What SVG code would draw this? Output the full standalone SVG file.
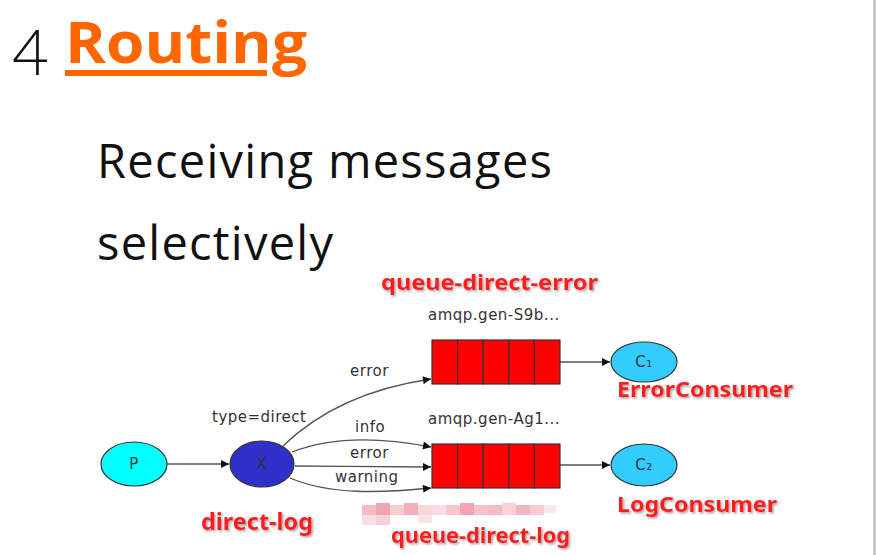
<svg xmlns="http://www.w3.org/2000/svg" width="876" height="555" viewBox="0 0 876 555">
<style>
.slide{font-family:"Open Sans",Lato,sans-serif;fill:#111}
.gv{font-family:"DejaVu Sans",sans-serif;font-size:15px;letter-spacing:0.5px;fill:#333}
.node{stroke:#333;stroke-width:1.2}
.edge{fill:none;stroke:#555;stroke-width:1.3}
.red{font-family:"Noto Sans","Open Sans",sans-serif;font-weight:bold;fill:#ff1a1a;filter:url(#sh)}
.cell{fill:#ff0000;stroke:#333;stroke-width:1.2}
</style>
<defs>
<marker id="ah" viewBox="0 0 10 10" refX="10" refY="5" markerWidth="10" markerHeight="8" markerUnits="userSpaceOnUse" orient="auto">
<path d="M0,0 L10,5 L0,10 z" fill="#111"/>
</marker>
<filter id="sh" x="-10%" y="-30%" width="120%" height="160%">
<feDropShadow dx="1.5" dy="1.5" stdDeviation="0.8" flood-color="#888" flood-opacity="0.8"/>
</filter>
</defs>
<rect width="876" height="555" fill="#fff"/>
<rect x="873" y="0" width="3" height="555" fill="#c8c8c8"/>

<g id="title">
<text x="12" y="75" font-family="Lato,sans-serif" fill="#111" font-size="64" font-weight="300">4</text>
<text x="65" y="63" font-family="'Open Sans',Lato,sans-serif" font-weight="bold" font-size="57" fill="#ff6600" textLength="242" lengthAdjust="spacingAndGlyphs">Routing</text>
<rect x="65" y="70" width="202" height="6" fill="#ff6600"/>
</g>
<g id="subtitle">
<text x="97" y="178" class="slide" font-size="47" textLength="455" lengthAdjust="spacing">Receiving messages</text>
<text x="97" y="260" class="slide" font-size="47" textLength="236" lengthAdjust="spacing">selectively</text>
</g>

<g id="mosaic" opacity="0.7">
<rect x="362" y="505" width="14" height="10" fill="#f2a0a8"/>
<rect x="376" y="503" width="14" height="12" fill="#e98090"/>
<rect x="390" y="505" width="14" height="10" fill="#f4b8c0"/>
<rect x="404" y="503" width="14" height="12" fill="#ee90a0"/>
<rect x="418" y="505" width="14" height="10" fill="#f7c8d0"/>
<rect x="432" y="505" width="14" height="10" fill="#f8d0d8"/>
<rect x="446" y="505" width="14" height="10" fill="#f4b0b8"/>
<rect x="460" y="503" width="14" height="12" fill="#ec8090"/>
<rect x="474" y="505" width="14" height="10" fill="#f2a8b4"/>
<rect x="488" y="505" width="14" height="10" fill="#f0a0ac"/>
<rect x="502" y="503" width="14" height="12" fill="#f6c0c8"/>
<rect x="516" y="505" width="14" height="10" fill="#ee98a6"/>
<rect x="530" y="505" width="14" height="10" fill="#f4b8c0"/>
<rect x="544" y="505" width="12" height="8" fill="#f8dde0"/>
<rect x="362" y="515" width="14" height="10" fill="#f8d0d6"/>
<rect x="376" y="515" width="14" height="10" fill="#f5c0c8"/>
<rect x="418" y="515" width="14" height="8" fill="#f8d8dc"/>
</g>

<g id="connectors">
<line class="edge" x1="167" y1="464" x2="229" y2="464" marker-end="url(#ah)"/>
<path class="edge" d="M283,446 C320,410 370,388 431,379" marker-end="url(#ah)"/>
<path class="edge" d="M292,452 C330,437 380,437 431,447" marker-end="url(#ah)"/>
<path class="edge" d="M295,466 C340,466 390,467 431,467" marker-end="url(#ah)"/>
<path class="edge" d="M290,478 C330,495 380,493 431,488" marker-end="url(#ah)"/>
<line class="edge" x1="560" y1="362" x2="610" y2="362" marker-end="url(#ah)"/>
<line class="edge" x1="560" y1="465" x2="610" y2="465" marker-end="url(#ah)"/>
<text x="350" y="376" class="gv">error</text>
<text x="355" y="432" class="gv">info</text>
<text x="350" y="458" class="gv">error</text>
<text x="335" y="482" class="gv" letter-spacing="1.2">warning</text>
<text x="212" y="422" class="gv">type=direct</text>
</g>

<g id="P">
<ellipse class="node" cx="134" cy="464" rx="33" ry="22" fill="#00ffff"/>
<text x="134" y="469" class="gv" text-anchor="middle" fill="#111">P</text>
</g>
<g id="X">
<ellipse class="node" cx="262" cy="464" rx="32" ry="23" fill="#3030c8"/>
<text x="262" y="469" class="gv" text-anchor="middle" fill="#111">X</text>
</g>

<g id="queue-error">
<rect class="cell" x="432" y="340" width="25.6" height="44"/>
<rect class="cell" x="457.6" y="340" width="25.6" height="44"/>
<rect class="cell" x="483.2" y="340" width="25.6" height="44"/>
<rect class="cell" x="508.8" y="340" width="25.6" height="44"/>
<rect class="cell" x="534.4" y="340" width="25.6" height="44"/>
<text x="428" y="320" class="gv">amqp.gen-S9b...</text>
</g>
<g id="queue-log">
<rect class="cell" x="432" y="444" width="25.6" height="44"/>
<rect class="cell" x="457.6" y="444" width="25.6" height="44"/>
<rect class="cell" x="483.2" y="444" width="25.6" height="44"/>
<rect class="cell" x="508.8" y="444" width="25.6" height="44"/>
<rect class="cell" x="534.4" y="444" width="25.6" height="44"/>
<text x="428" y="424" class="gv">amqp.gen-Ag1...</text>
</g>

<g id="C1">
<ellipse class="node" cx="644" cy="362" rx="33" ry="20" fill="#33ccff"/>
<text x="644" y="367" class="gv" text-anchor="middle" fill="#111">C₁</text>
</g>
<g id="C2">
<ellipse class="node" cx="644" cy="465" rx="33" ry="21" fill="#33ccff"/>
<text x="644" y="470" class="gv" text-anchor="middle" fill="#111">C₂</text>
</g>

<g id="labels">
<text x="381" y="290" class="red" font-size="22" textLength="217" lengthAdjust="spacingAndGlyphs">queue-direct-error</text>
<text x="617" y="397" class="red" font-size="22" textLength="176" lengthAdjust="spacingAndGlyphs">ErrorConsumer</text>
<text x="201" y="530" class="red" font-size="23" textLength="112" lengthAdjust="spacingAndGlyphs">direct-log</text>
<text x="617" y="512" class="red" font-size="22" textLength="160" lengthAdjust="spacingAndGlyphs">LogConsumer</text>
<text x="391" y="543" class="red" font-size="22" textLength="179" lengthAdjust="spacingAndGlyphs">queue-direct-log</text>
</g>
</svg>
